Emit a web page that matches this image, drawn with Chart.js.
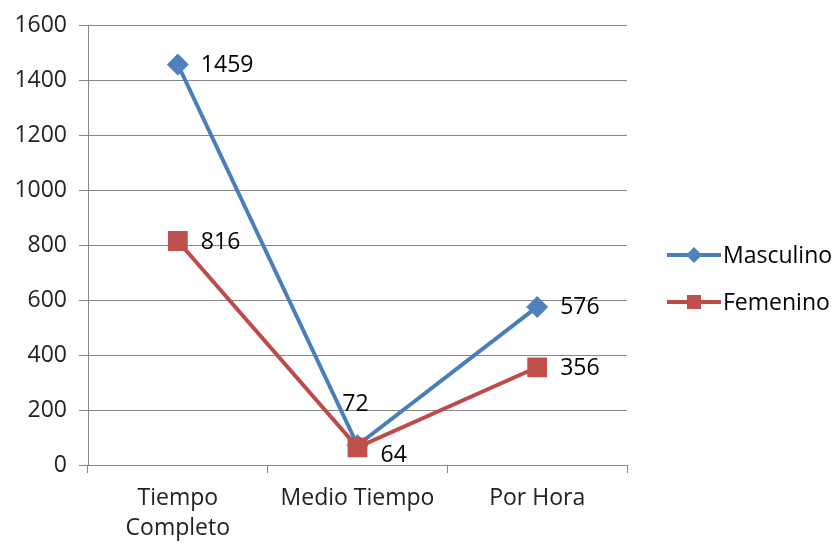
<!DOCTYPE html>
<html>
<head>
<meta charset="utf-8">
<script src="https://cdn.jsdelivr.net/npm/chart.js@4.4.0/dist/chart.umd.min.js"></script>
<style>
  body { margin: 0; background: #fff; }
  #wrap { width: 837px; height: 543px; }
</style>
</head>
<body>
<div id="wrap"><canvas id="myChart" width="837" height="543"></canvas></div>
<script>
const categories = [['Tiempo', 'Completo'], 'Medio Tiempo', 'Por Hora'];
const masculino = [1459, 72, 576];
const femenino = [816, 64, 356];
const yTicks = [0, 200, 400, 600, 800, 1000, 1200, 1400, 1600];

// where each value label goes relative to its point
const masculinoLabelPos = ['right', 'above', 'right'];
const femeninoLabelPos = ['right', 'belowRight', 'right'];

const FONT = "'Open Sans', sans-serif";
const FSIZE = 23;

const valueLabels = {
  id: 'valueLabels',
  afterDatasetsDraw(chart) {
    const ctx = chart.ctx;
    ctx.save();
    ctx.font = FSIZE + 'px ' + FONT;
    ctx.fillStyle = '#000';
    ctx.textBaseline = 'middle';
    chart.data.datasets.forEach((ds, i) => {
      const meta = chart.getDatasetMeta(i);
      meta.data.forEach((pt, j) => {
        const pos = ds.labelPos[j];
        let x = pt.x + 23, y = pt.y + 1;
        ctx.textAlign = 'left';
        if (pos === 'above') { ctx.textAlign = 'center'; x = pt.x - 2; y = pt.y - 41; }
        if (pos === 'belowRight') { y = pt.y + 8; }
        ctx.fillText(String(ds.data[j]), x, y);
      });
    });
    ctx.restore();
  }
};

const sideLegend = {
  id: 'sideLegend',
  afterDraw(chart) {
    const ctx = chart.ctx;
    ctx.save();
    chart.data.datasets.forEach((ds, i) => {
      const y = 255 + i * 47;
      ctx.strokeStyle = ds.borderColor;
      ctx.lineWidth = 4;
      ctx.beginPath();
      ctx.moveTo(667, y);
      ctx.lineTo(721, y);
      ctx.stroke();
      ctx.fillStyle = ds.pointBackgroundColor;
      ctx.beginPath();
      if (ds.pointStyle === 'rectRot') {
        ctx.moveTo(694, y - 8); ctx.lineTo(702, y); ctx.lineTo(694, y + 8); ctx.lineTo(686, y);
      } else {
        ctx.rect(687, y - 7, 14, 14);
      }
      ctx.closePath();
      ctx.fill();
      ctx.fillStyle = '#000';
      ctx.font = FSIZE + 'px ' + FONT;
      ctx.textBaseline = 'middle';
      ctx.textAlign = 'left';
      ctx.fillText(ds.label, 723, y + 1);
    });
    ctx.restore();
  }
};

new Chart(document.getElementById('myChart'), {
  type: 'line',
  data: {
    labels: categories,
    datasets: [
      {
        label: 'Masculino',
        data: masculino,
        labelPos: masculinoLabelPos,
        order: 1,
        borderColor: '#4A7EBB',
        backgroundColor: '#4F81BD',
        pointBackgroundColor: '#4F81BD',
        pointBorderColor: '#4F81BD',
        borderWidth: 4,
        pointStyle: 'rectRot',
        pointRadius: 11,
        pointBorderWidth: 0,
        tension: 0
      },
      {
        label: 'Femenino',
        data: femenino,
        labelPos: femeninoLabelPos,
        order: 0,
        borderColor: '#BE4B48',
        backgroundColor: '#C0504D',
        pointBackgroundColor: '#C0504D',
        pointBorderColor: '#C0504D',
        borderWidth: 4,
        pointStyle: 'rect',
        pointRadius: 14,
        pointBorderWidth: 0,
        tension: 0
      }
    ]
  },
  options: {
    responsive: false,
    animation: false,
    layout: { padding: { top: 25, right: 210, left: 0, bottom: 0 } },
    plugins: {
      legend: { display: false },
      tooltip: { enabled: false }
    },
    scales: {
      x: {
        offset: true,
        grid: { offset: true, drawOnChartArea: false, drawTicks: true, tickLength: 8, color: '#868686' },
        border: { color: '#868686', width: 1 },
        ticks: { color: '#222', font: { family: FONT, size: FSIZE, lineHeight: 1.3 }, padding: 11, maxRotation: 0, autoSkip: false },
        afterFit(scale) { scale.height = 78; }
      },
      y: {
        min: 0,
        max: 1600,
        afterBuildTicks(scale) { scale.ticks = yTicks.map(v => ({ value: v })); },
        grid: { color: '#868686', tickLength: 9, drawTicks: true },
        border: { color: '#868686', width: 1 },
        ticks: { color: '#222', font: { family: FONT, size: FSIZE }, padding: 12, callback: v => String(v) },
        afterFit(scale) { scale.width = 88; }
      }
    }
  },
  plugins: [valueLabels, sideLegend]
});
</script>
</body>
</html>
